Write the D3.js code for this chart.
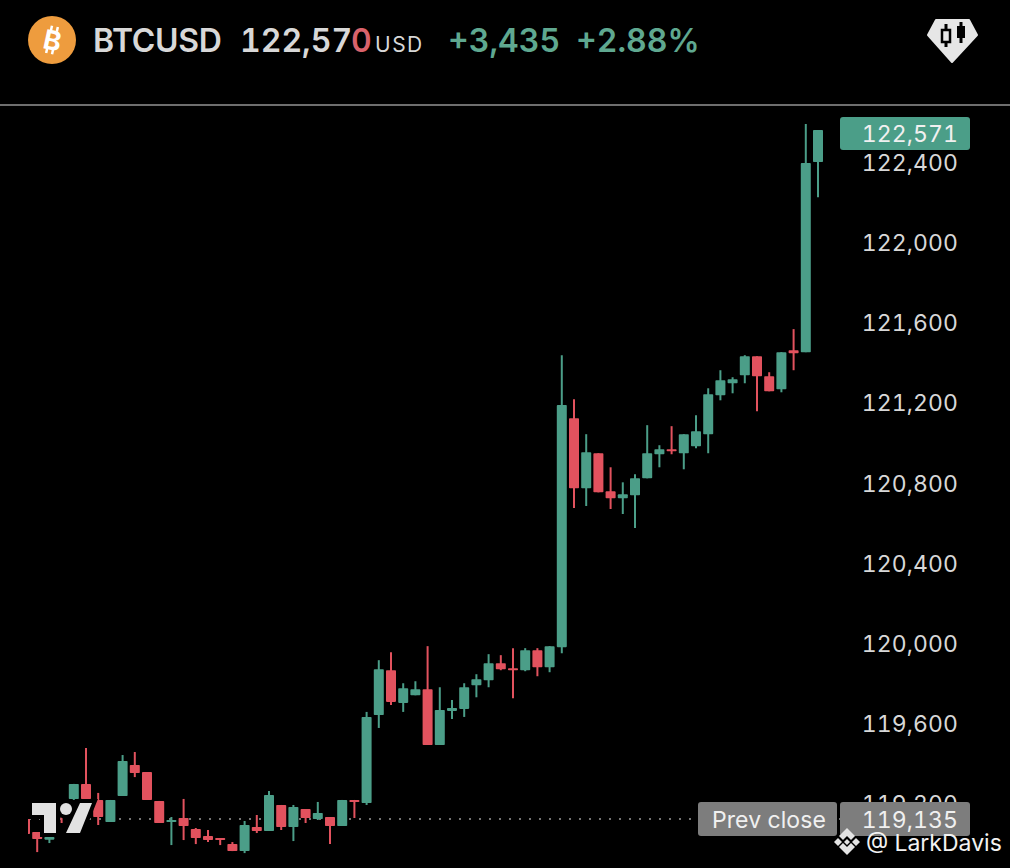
<!DOCTYPE html>
<html>
<head>
<meta charset="utf-8">
<script src="https://cdn.jsdelivr.net/npm/d3@7"></script>
<style>
  html, body { margin: 0; padding: 0; background: #000; }
  svg { display: block; }
  text { font-family: Inter, "Noto Sans", sans-serif; font-variant-numeric: tabular-nums; font-feature-settings: "tnum" 1; }
</style>
</head>
<body>
<svg width="1010" height="868"></svg>
<script>
// candles, oldest first
var opens  = [119150,119070,119032,119200,119235,119310,119230,119120,119250,119404,119369,119225,119120,119140,119085,119050,119040,119010,118975,119095,119075,119205,119095,119185,119135,119145,119100,119230,119215,119654,119877,119714,119752,119782,119504,119674,119684,119802,119827,119912,119887,119877,119977,119892,119992,121134,120784,120959,120769,120734,120749,120834,120954,120979,120959,120994,121054,121248,121308,121348,121443,121343,121278,121473,121463,122411];
var highs  = [119150,119070,119045,119200,119310,119489,119265,119230,119454,119469,119369,119225,119145,119235,119090,119080,119040,119020,119125,119155,119275,119205,119205,119185,119220,119145,119230,119230,119669,119927,119967,119812,119822,119997,119792,119729,119812,119857,119957,119952,119987,119987,119987,119997,121448,121228,121054,120959,120889,120814,120854,121099,120999,121094,121054,121149,121283,121373,121338,121448,121443,121363,121463,121578,122601,122571];
var lows   = [119060,118970,119015,119115,119230,119235,119105,119120,119250,119344,119230,119115,119005,119030,119010,119020,119005,118975,118965,119065,119075,119080,119025,119115,119130,119010,119100,119140,119205,119589,119704,119669,119752,119504,119504,119634,119644,119742,119792,119877,119737,119872,119847,119867,119962,120686,120696,120764,120681,120656,120586,120834,120889,120954,120879,120984,120959,121223,121258,121308,121169,121268,121263,121373,121463,122236];
var closes = [119060,119035,119045,119155,119310,119235,119145,119230,119424,119364,119230,119115,119130,119100,119040,119030,119030,118975,119105,119075,119255,119095,119195,119140,119165,119100,119230,119220,119644,119882,119719,119787,119782,119504,119679,119689,119792,119832,119912,119882,119877,119977,119892,119997,121199,120784,120964,120764,120734,120754,120834,120959,120979,120969,121054,121069,121253,121323,121328,121443,121343,121268,121463,121458,122406,122571];

var yTicks = [119200,119600,120000,120400,120800,121200,121600,122000,122400];
var lastPrice = 122571;
var prevClose = 119135;

var green = "#4b9e88";
var red = "#e2525e";
var textGrey = "#d8d8d8";

var svg = d3.select("svg");
svg.append("rect").attr("width", 1010).attr("height", 868).attr("fill", "#000");

var x = d3.scaleLinear().domain([0, opens.length - 1]).range([25, 818]);
var y = d3.scaleLinear().domain([prevClose, lastPrice]).range([819, 130]);
var fmt = d3.format(",");

svg.append("clipPath").attr("id", "plot")
  .append("rect").attr("x", 28).attr("y", 106).attr("width", 812).attr("height", 762);

var plot = svg.append("g").attr("clip-path", "url(#plot)");

// prev close dotted line
plot.append("line")
  .attr("x1", 29).attr("x2", 840)
  .attr("y1", y(prevClose)).attr("y2", y(prevClose))
  .attr("stroke", "#9a9a9a").attr("stroke-width", 1.5)
  .attr("stroke-dasharray", "2 8");

var candles = plot.selectAll("g.candle")
  .data(opens.map(function (o, i) { return i; }))
  .enter().append("g").attr("class", "candle");

var colour = function (i) { return closes[i] >= opens[i] ? green : red; };

candles.append("line")
  .attr("x1", function (i) { return x(i); })
  .attr("x2", function (i) { return x(i); })
  .attr("y1", function (i) { return y(highs[i]); })
  .attr("y2", function (i) { return y(lows[i]); })
  .attr("stroke", colour).attr("stroke-width", 2);

candles.append("rect")
  .attr("x", function (i) { return x(i) - 5; })
  .attr("width", 10)
  .attr("y", function (i) { return y(Math.max(opens[i], closes[i])); })
  .attr("height", function (i) { return Math.max(1.5, Math.abs(y(opens[i]) - y(closes[i]))); })
  .attr("rx", 0.8)
  .attr("fill", colour);

// tradingview logo, black halo hides the candles under it
var logo = svg.append("g");
var logoShapes = function (g) {
  g.append("path").attr("d", "M32 803H56V833H44V815H32Z");
  g.append("circle").attr("cx", 66).attr("cy", 809).attr("r", 6);
  g.append("path").attr("d", "M80 803H92L80 833H66Z");
};
logo.append("g").attr("fill", "#000").attr("stroke", "#000").attr("stroke-width", 8).call(logoShapes);
logo.append("g").attr("fill", "#e2e2e2").call(logoShapes);

// price axis
var axis = svg.append("g")
  .attr("transform", "translate(958,-1.5)")
  .call(d3.axisRight(y).tickValues(yTicks).tickSize(0).tickFormat(fmt));
axis.select(".domain").remove();
axis.selectAll("text")
  .attr("x", 0).attr("text-anchor", "end")
  .style("font-family", "Inter, sans-serif")
  .style("font-size", "23px").style("letter-spacing", "0.1px")
  .attr("fill", textGrey);

// header
svg.append("line").attr("x1", 0).attr("x2", 1010).attr("y1", 105).attr("y2", 105)
  .attr("stroke", "#6e6e6e").attr("stroke-width", 2);

svg.append("circle").attr("cx", 52).attr("cy", 40).attr("r", 24).attr("fill", "#ee9c3e");
var btc = svg.append("g").attr("transform", "rotate(12 52 40)");
btc.append("text").attr("x", 52.5).attr("y", 50).attr("text-anchor", "middle")
  .attr("font-size", 27).attr("font-weight", 700).attr("fill", "#fff").text("B");
[49, 55].forEach(function (bx) {
  btc.append("line").attr("x1", bx).attr("x2", bx).attr("y1", 26).attr("y2", 31).attr("stroke", "#fff").attr("stroke-width", 2.5);
  btc.append("line").attr("x1", bx).attr("x2", bx).attr("y1", 49).attr("y2", 54).attr("stroke", "#fff").attr("stroke-width", 2.5);
});

var headerText = function (px, txt, size, col, weight, ls) {
  svg.append("text").attr("x", px).attr("y", 52)
    .attr("font-size", size).attr("font-weight", weight).attr("fill", col)
    .style("letter-spacing", ls + "px").text(txt);
};
headerText(93, "BTCUSD", 32, textGrey, 600, -0.3);
headerText(240, "122,57", 32, textGrey, 600, 0);
headerText(351, "0", 32, "#d9626b", 600, 0);
headerText(375, "USD", 21, textGrey, 400, 1.5);
headerText(448, "+3,435", 32, "#5fa890", 600, 0);
headerText(576, "+2.88%", 32, "#5fa890", 600, 0);

// chart type badge
svg.append("path").attr("d", "M936 20H969L977 35L952 62L928 35Z")
  .attr("fill", "#e6e6e6").attr("stroke", "#e6e6e6").attr("stroke-width", 2).attr("stroke-linejoin", "round");
svg.append("line").attr("x1", 946).attr("x2", 946).attr("y1", 24).attr("y2", 47).attr("stroke", "#000").attr("stroke-width", 3);
svg.append("rect").attr("x", 942).attr("y", 30).attr("width", 8).attr("height", 12).attr("fill", "#e6e6e6").attr("stroke", "#000").attr("stroke-width", 2.5);
svg.append("line").attr("x1", 961).attr("x2", 961).attr("y1", 22).attr("y2", 43).attr("stroke", "#000").attr("stroke-width", 3);
svg.append("rect").attr("x", 957).attr("y", 26).attr("width", 8).attr("height", 12).attr("fill", "#000");

// price tags
var tag = function (px, py, w, h, col, txt, anchorX, size) {
  svg.append("rect").attr("x", px).attr("y", py).attr("width", w).attr("height", h).attr("rx", 3).attr("fill", col);
  svg.append("text").attr("x", anchorX).attr("y", py + h / 2 + 8.5).attr("text-anchor", "end")
    .attr("font-size", size).attr("fill", "#f0f0f0").style("letter-spacing", "0.1px").text(txt);
};
tag(840, 117, 130, 33, green, fmt(lastPrice), 958, 23);
tag(698, 802, 139, 34, "#7d7d7d", "Prev close", 826, 23);
tag(840, 802, 130, 34, "#7d7d7d", fmt(prevClose), 958, 23);

// watermark
var mark = svg.append("g").attr("fill", "#e4e4e4");
mark.append("path").attr("d", "M847 828L855 836L851 840L847 836L843 840L839 836Z");
mark.append("path").attr("d", "M847 855L855 847L851 843L847 847L843 843L839 847Z");
mark.append("path").attr("d", "M838 838L842 842L838 846L834 842Z");
mark.append("path").attr("d", "M856 838L860 842L856 846L852 842Z");
mark.append("path").attr("d", "M847 839L850 842L847 845L844 842Z");
svg.append("text").attr("x", 866).attr("y", 851).attr("font-size", 23).attr("fill", "#f2f2f2").text("@ LarkDavis");
</script>
</body>
</html>
